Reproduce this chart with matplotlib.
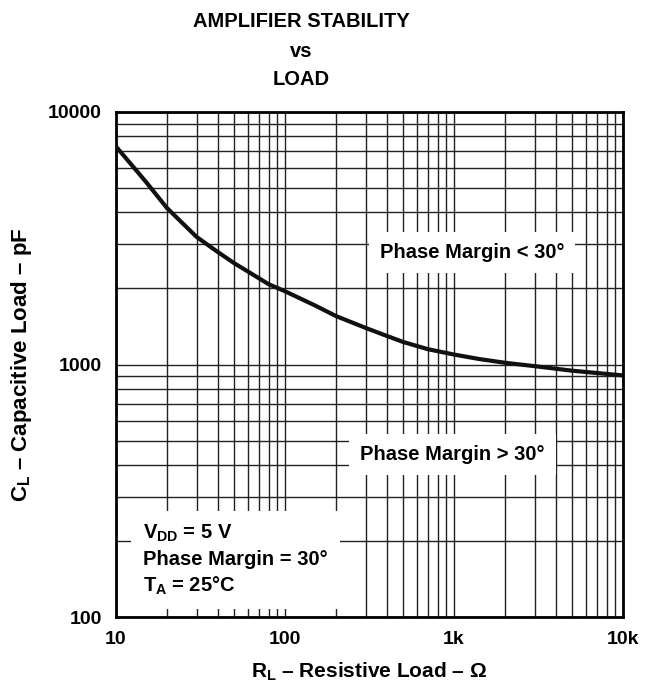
import matplotlib
matplotlib.use('Agg')
import matplotlib.pyplot as plt

# Curve (RL in ohms, CL in pF)
rl = [10, 15, 20, 30, 40, 50, 60, 80, 100, 150, 200, 300, 400, 500, 700,
      1000, 1400, 2000, 3000, 5000, 10000]
cl = [7300, 5300, 4170, 3200, 2790, 2520, 2340, 2080, 1950, 1715, 1556, 1396, 1298, 1228, 1150,
      1095, 1052, 1016, 985, 945, 905]

x_ticks = [10, 100, 1000, 10000]
x_ticklabels = ['10', '100', '1k', '10k']
y_ticks = [100, 1000, 10000]
y_ticklabels = ['100', '1000', '10000']

plt.rcParams['font.family'] = ['Liberation Sans', 'DejaVu Sans']
plt.rcParams['font.weight'] = 'bold'
plt.rcParams['mathtext.fontset'] = 'custom'
plt.rcParams['mathtext.rm'] = 'Liberation Sans:bold'
plt.rcParams['mathtext.it'] = 'Liberation Sans:bold'
plt.rcParams['mathtext.bf'] = 'Liberation Sans:bold'

fig = plt.figure(figsize=(6.53, 6.83), dpi=100)
ax = fig.add_axes([116/653, 66/683, 507/653, 505/683])

ax.plot(rl, cl, color='#111111', linewidth=3, zorder=3, solid_capstyle='butt')

ax.set_xscale('log')
ax.set_yscale('log')
ax.set_xlim(10, 10000)
ax.set_ylim(100, 10000)

ax.set_xticks(x_ticks)
ax.set_xticklabels(x_ticklabels)
ax.set_yticks(y_ticks)
ax.set_yticklabels(y_ticklabels)
ax.tick_params(which='both', length=0, labelsize=14)
ax.tick_params(axis='x', pad=10)
ax.tick_params(axis='y', pad=10)
for lab in ax.get_xticklabels() + ax.get_yticklabels():
    lab.set_fontweight('bold')

ax.grid(which='both', color='#222222', linewidth=1.0)
ax.set_axisbelow(True)
for s in ax.spines.values():
    s.set_linewidth(2)

# Region labels with white backing over the grid
box = dict(boxstyle='square,pad=0.55', facecolor='white', edgecolor='none')
ax.text(0.702, 0.722, 'Phase Margin < 30°', transform=ax.transAxes, ha='center', va='center',
        fontsize=14.5, fontweight='bold', bbox=box, zorder=4)
ax.text(0.664, 0.322, 'Phase Margin > 30°', transform=ax.transAxes, ha='center', va='center',
        fontsize=14.5, fontweight='bold', bbox=box, zorder=4)
ax.text(0.053, 0.113, '$V_{DD}$ = 5 V\nPhase Margin = 30°\n$T_A$ = 25°C', transform=ax.transAxes,
        ha='left', va='center', fontsize=14.5, fontweight='bold', linespacing=1.35,
        bbox=dict(boxstyle='square,pad=0.6', facecolor='white', edgecolor='none'), zorder=4)

# Title
for txt, yb in [('AMPLIFIER STABILITY', 27), ('vs', 57), ('LOAD', 85)]:
    fig.text(301/653, 1 - yb/683, txt, ha='center', va='baseline', fontsize=14.5, fontweight='bold')

ax.set_xlabel('$R_L$ – Resistive Load – Ω', fontsize=15, fontweight='bold', labelpad=9)
ax.set_ylabel('$C_L$ – Capacitive Load – pF', fontsize=16, fontweight='bold', labelpad=10)

fig.savefig('out.png', dpi=100)
